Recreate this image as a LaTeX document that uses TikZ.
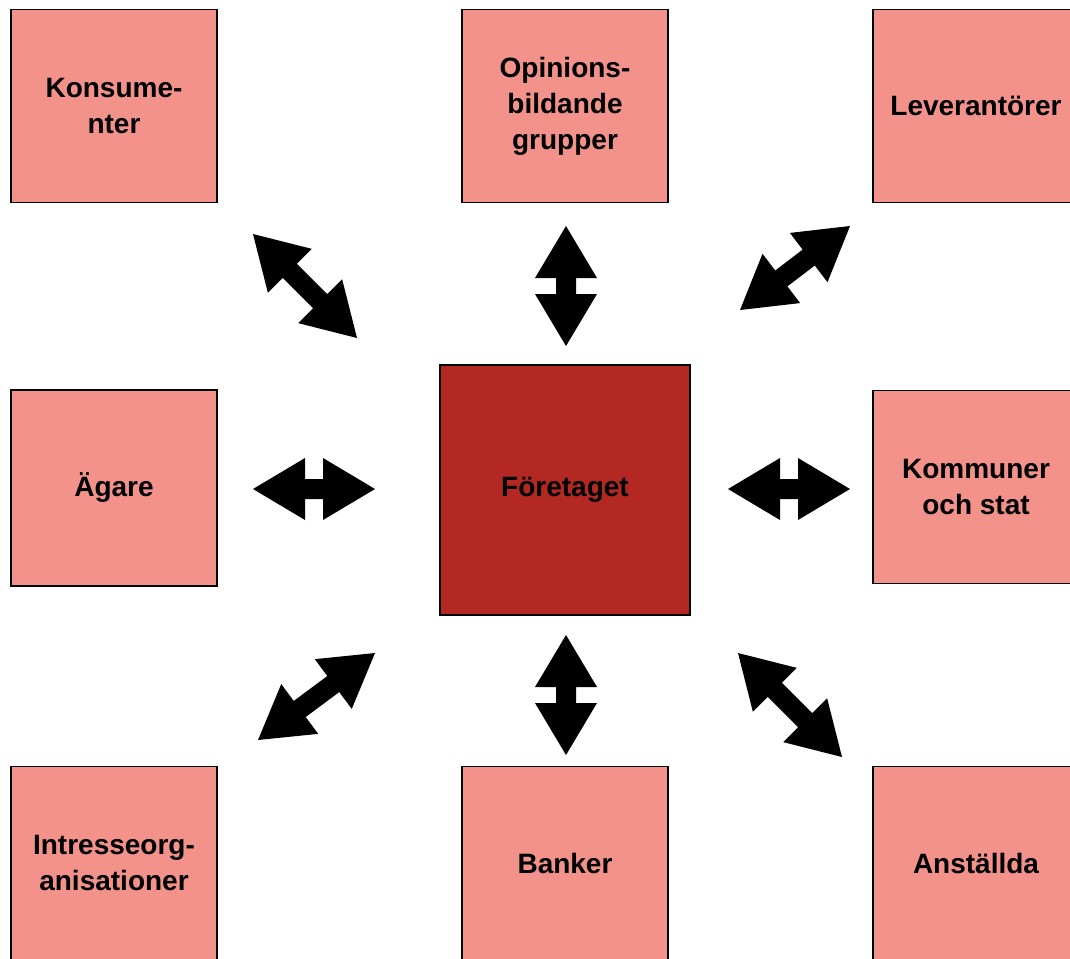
\documentclass[tikz,border=0pt]{standalone}
\usepackage{fontspec}
\setmainfont{Liberation Sans}
\usetikzlibrary{calc,positioning}
\definecolor{StakePink}{HTML}{F3928A}
\definecolor{StakeRed}{HTML}{B42824}

\newcommand{\twoway}[2]{%
  \fill[black] (#1)
    -- ($(#1)!52pt!(#2)!31pt!90:(#2)$)
    -- ($(#1)!52pt!(#2)!10pt!90:(#2)$)
    -- ($(#2)!52pt!(#1)!10pt!-90:(#1)$)
    -- ($(#2)!52pt!(#1)!31pt!-90:(#1)$)
    -- (#2)
    -- ($(#2)!52pt!(#1)!31pt!90:(#1)$)
    -- ($(#2)!52pt!(#1)!10pt!90:(#1)$)
    -- ($(#1)!52pt!(#2)!10pt!-90:(#2)$)
    -- ($(#1)!52pt!(#2)!31pt!-90:(#2)$)
    -- cycle;}

\begin{document}
\begin{tikzpicture}[x=1pt,y=-1pt,
  stake/.style={draw=black,line width=1.5pt,fill=StakePink,minimum width=206pt,minimum height=193pt,inner sep=0pt,align=center,font=\bfseries\fontsize{28}{36}\selectfont},
  firm/.style={stake,fill=StakeRed,minimum width=250pt,minimum height=250pt}]
  \useasboundingbox (0,0) rectangle (1070,958);
  \clip (0,0) rectangle (1070,958);

  \node[firm] (foretaget) at (565,490) {Företaget};

  \node[stake] (konsumenter) at (114,106) {Konsume-\\nter};
  \node[stake] (opinion) at (565,106) {Opinions-\\bildande\\grupper};
  \node[stake] (leverantorer) at (976,106) {Leverantörer};
  \node[stake,minimum height=196pt] (agare) at (114,488) {Ägare};
  \node[stake] (kommuner) at (976,487) {Kommuner\\och stat};
  \node[stake] (intresse) at (114,863) {Intresseorg-\\anisationer};
  \node[stake] (banker) at (565,863) {Banker};
  \node[stake] (anstallda) at (976,863) {Anställda};

  % ends of the block arrows
  \coordinate (kons-a) at (253,234);  \coordinate (kons-b) at (357,338);
  \coordinate (opin-a) at (566,226);  \coordinate (opin-b) at (566,346);
  \coordinate (leve-a) at (850,226);  \coordinate (leve-b) at (740,310);
  \coordinate (agar-a) at (253,489);  \coordinate (agar-b) at (375,489);
  \coordinate (komm-a) at (728,489);  \coordinate (komm-b) at (850,489);
  \coordinate (intr-a) at (375,653);  \coordinate (intr-b) at (258,740);
  \coordinate (bank-a) at (566,635);  \coordinate (bank-b) at (566,755);
  \coordinate (anst-a) at (738,653);  \coordinate (anst-b) at (842,757);

  \twoway{kons-a}{kons-b}
  \twoway{opin-a}{opin-b}
  \twoway{leve-a}{leve-b}
  \twoway{agar-a}{agar-b}
  \twoway{komm-a}{komm-b}
  \twoway{intr-a}{intr-b}
  \twoway{bank-a}{bank-b}
  \twoway{anst-a}{anst-b}
\end{tikzpicture}
\end{document}
